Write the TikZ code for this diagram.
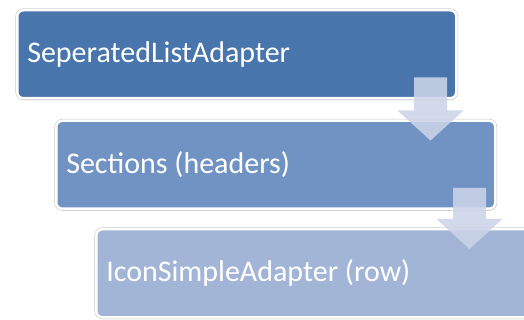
\documentclass[tikz,border=0pt]{standalone}
\usepackage{fontspec}
\setmainfont{Carlito}
\usetikzlibrary{positioning, calc, shadows}

\definecolor{boxdark}{RGB}{71,117,172}
\definecolor{boxmid}{RGB}{113,147,195}
\definecolor{boxlight}{RGB}{163,181,214}
\definecolor{arrowfill}{RGB}{203,212,232}

% block arrow from the bottom of one box into the next one
\newcommand{\blockarrow}[2]{%
  \path ($(#1.south east)+(-27,22)$) coordinate (t)
        ($(#2.north)+(0,-21)$) coordinate (b);
  \fill[flowarrow] ($(t)+(-16.5,0)$) -- ($(t)+(16.5,0)$)
    -- ($(t |- b)+(16.5,30)$) -- ($(t |- b)+(33,30)$) -- (t |- b)
    -- ($(t |- b)+(-33,30)$) -- ($(t |- b)+(-16.5,30)$) -- cycle;
}

\begin{document}
\begin{tikzpicture}[
  x=1pt, y=1pt,
  stagebox/.style={rectangle, rounded corners=6pt, minimum width=439pt, minimum height=88pt,
    text width=419pt, align=flush left, inner xsep=10pt, draw=white, line width=2.5pt,
    text=white, font=\fontsize{30}{36}\selectfont,
    drop shadow={shadow xshift=1.2pt, shadow yshift=-1.8pt, opacity=0.3},
    preaction={draw=black!22, line width=3.6pt}},
  flowarrow/.style={fill=arrowfill, opacity=0.88}
]
\useasboundingbox (0,0) rectangle (524,-320);

\node (sla) [stagebox, fill=boxdark, anchor=north west] at (16,-9) {SeperatedListAdapter};
\node (sections) [stagebox, fill=boxmid, below right=20pt and 39pt of sla.south west] {Sections (headers)};
\node (iconrow) [stagebox, fill=boxlight, below right=18pt and 40pt of sections.south west] {IconSimpleAdapter (row)};

\blockarrow{sla}{sections}
\blockarrow{sections}{iconrow}

\end{tikzpicture}
\end{document}
